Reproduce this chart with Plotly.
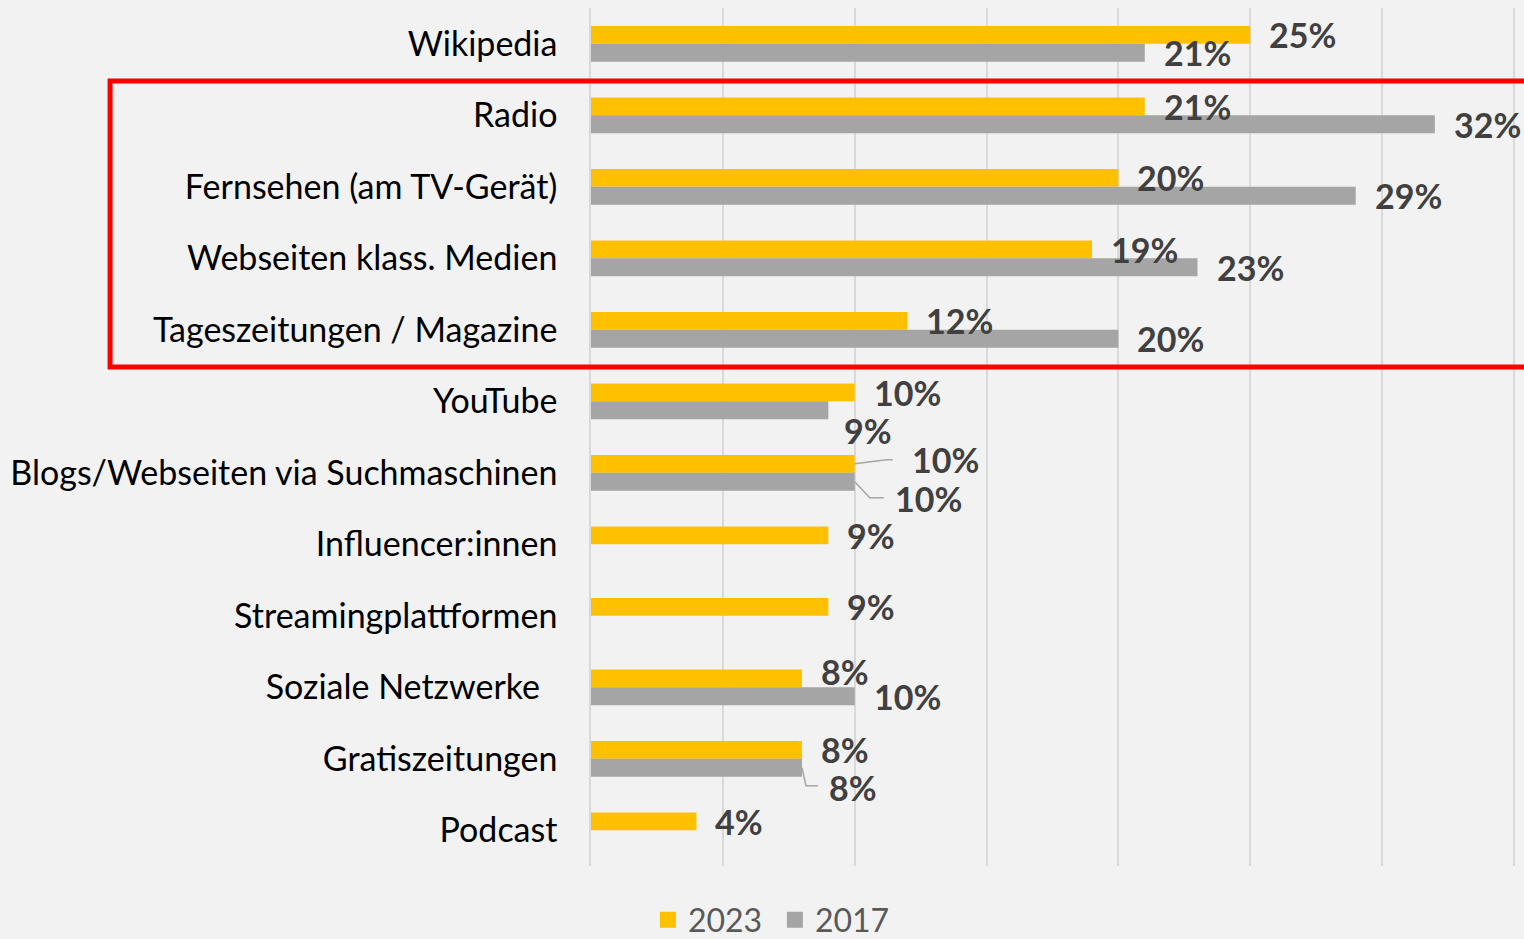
import plotly.graph_objects as go

categories = ["Wikipedia", "Radio", "Fernsehen (am TV-Gerät)", "Webseiten klass. Medien",
              "Tageszeitungen / Magazine", "YouTube", "Blogs/Webseiten via Suchmaschinen",
              "Influencer:innen", "Streamingplattformen", "Soziale Netzwerke\u00a0\u00a0",
              "Gratiszeitungen", "Podcast"]
values_2023 = [25, 21, 20, 19, 12, 10, 10, 9, 9, 8, 8, 4]
values_2017 = [21, 32, 29, 23, 20, 9, 10, None, None, 10, 8, None]
series_names = ["2023", "2017"]

C23 = "#FFC000"
C17 = "#A5A5A5"
LBL = "#404040"
FONT = "Lato"

fig = go.Figure()
fig.add_trace(go.Bar(y=categories, x=values_2023, orientation="h", name=series_names[0],
                     marker=dict(color=C23, line=dict(width=0)), showlegend=False))
fig.add_trace(go.Bar(y=categories, x=values_2017, orientation="h", name=series_names[1],
                     marker=dict(color=C17, line=dict(width=0)), showlegend=False))
# legend entries with larger square swatches
for nm, col in zip(series_names, [C23, C17]):
    fig.add_trace(go.Scatter(x=[None], y=[None], mode="markers", name=nm,
                             marker=dict(symbol="square", size=22, color=col)))

# label offsets (pixels): (xshift, yshift) per series
off23 = {6: (55, 4), 9: (17, 7)}
off17 = {5: (14, -20), 6: (38, -17), 10: (25, -20)}

for i, cat in enumerate(categories):
    v = values_2023[i]
    if v is not None:
        dx, dy = off23.get(i, (17, 0))
        fig.add_annotation(x=v, y=cat, text=f"{v}%", showarrow=False, xanchor="left",
                           xshift=dx, yshift=9 + dy,
                           font=dict(family=FONT, size=34, color=LBL, weight="bold"))
    v = values_2017[i]
    if v is not None:
        dx, dy = off17.get(i, (17, 0))
        fig.add_annotation(x=v, y=cat, text=f"{v}%", showarrow=False, xanchor="left",
                           xshift=dx, yshift=-9 + dy,
                           font=dict(family=FONT, size=34, color=LBL, weight="bold"))

# leader lines for displaced labels
def leader(val, idx, path):
    fig.add_shape(type="path", xref="x", yref="y", xsizemode="pixel", ysizemode="pixel",
                  xanchor=val, yanchor=idx, path=path,
                  line=dict(color="#A6A6A6", width=1.5))

leader(values_2023[6], 6, "M0,9 L32,13 L38,13")
leader(values_2017[6], 6, "M0,-9 L15,-25 L29,-25")
leader(values_2017[10], 10, "M0,-9 L4,-27 L16,-27")

# red highlight box
fig.add_shape(type="rect", xref="paper", yref="paper", x0=-0.5205, x1=1.05,
              y0=0.5815, y1=0.9149, line=dict(color="#FF0000", width=5),
              fillcolor="rgba(0,0,0,0)", layer="above")

fig.update_layout(
    width=1524, height=939,
    paper_bgcolor="#F2F2F2", plot_bgcolor="#F2F2F2",
    margin=dict(l=591, r=9, t=8, b=73, autoexpand=False),
    barmode="group", bargap=0.5, bargroupgap=0,
    showlegend=True,
    legend=dict(orientation="h", x=0.199, xanchor="center", y=-0.063, yanchor="middle",
                font=dict(family=FONT, size=32, color="#595959"), traceorder="normal",
                bgcolor="rgba(0,0,0,0)", itemwidth=30, entrywidth=82,
                entrywidthmode="pixels"),
    font=dict(family=FONT),
)
fig.update_xaxes(range=[0, 35.04], dtick=5, showticklabels=False, showgrid=True,
                 gridcolor="#D9D9D9", gridwidth=1.5, zeroline=False, showline=False,
                 fixedrange=True, automargin=False)
fig.update_yaxes(autorange="reversed", showgrid=False, showline=True, linecolor="#D9D9D9",
                 linewidth=1.5, ticks="", ticklabelstandoff=25, automargin=False,
                 tickfont=dict(family=FONT, size=34, color="#000000"), fixedrange=True)

fig.write_html("out.html", config={"displayModeBar": False},
               post_script="document.body.style.margin='0';document.body.style.background='#F2F2F2';")
